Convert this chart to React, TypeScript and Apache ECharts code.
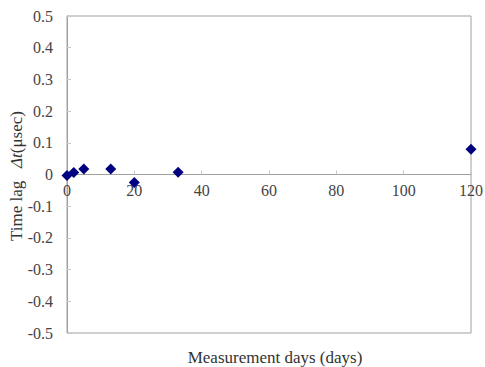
import React, { useEffect, useRef } from "react";
import * as echarts from "echarts";

const days = [0, 2, 5, 13, 20, 33, 120];
const timeLag = [-0.003, 0.006, 0.017, 0.017, -0.025, 0.007, 0.08];
const xTicks = [0, 20, 40, 60, 80, 100, 120];
const xName = "Measurement days (days)";
const yName = "Time lag   {i|Δt}(μsec)";

export default function App() {
  const ref = useRef<HTMLDivElement>(null);
  useEffect(() => {
    if (!ref.current) return;
    const chart = echarts.init(ref.current, null, { renderer: "svg", width: 485, height: 367 });
    const font = "'Liberation Serif', 'Times New Roman', serif";
    const gridTop = 16;
    const gridBottom = 34;
    const gridH = 367 - gridTop - gridBottom;
    chart.setOption({
      animation: false,
      backgroundColor: "#ffffff",
      grid: {
        left: 67,
        right: 14,
        top: gridTop,
        bottom: gridBottom,
        show: true,
        borderColor: "#a0a0a0",
        borderWidth: 1,
        containLabel: false,
        outerBoundsMode: "none",
      },
      graphic: [
        {
          type: "text",
          x: 275,
          y: 357,
          style: {
            text: xName,
            fill: "#333",
            font: `17px ${font}`,
            align: "center",
            verticalAlign: "middle",
          },
        },
        {
          type: "text",
          x: 16,
          y: 176,
          rotation: Math.PI / 2,
          style: {
            text: yName,
            fill: "#333",
            font: `17px ${font}`,
            align: "center",
            verticalAlign: "middle",
            rich: {
              i: { fontStyle: "italic", fontFamily: font, fontSize: 17, fill: "#333" },
            },
          },
        },
      ],
      xAxis: {
        type: "value",
        min: xTicks[0],
        max: xTicks[xTicks.length - 1],
        interval: 20,
        offset: -gridH / 2,
        axisLine: { onZero: false, lineStyle: { color: "#a0a0a0", width: 1 } },
        axisTick: { show: true, inside: true, length: 4, lineStyle: { color: "#c8c8c8" } },
        axisLabel: {
          color: "#444",
          fontFamily: font,
          fontSize: 16,
          margin: 8,
        },
        splitLine: { show: false },
      },
      yAxis: {
        type: "value",
        min: -0.5,
        max: 0.5,
        interval: 0.1,
        axisLine: { show: true, lineStyle: { color: "#a0a0a0", width: 1 } },
        axisTick: { show: true, inside: true, length: 4, lineStyle: { color: "#c8c8c8" } },
        axisLabel: {
          color: "#444",
          fontFamily: font,
          fontSize: 16,
          margin: 14,
          formatter: (v: number) => {
            const r = Math.round(v * 10) / 10;
            return r === 0 ? "0" : r.toFixed(1);
          },
        },
        splitLine: { show: false },
      },
      series: [
        {
          type: "scatter",
          symbol: "diamond",
          symbolSize: 11,
          itemStyle: { color: "#000080", opacity: 1 },
          data: days.map((d, i) => [d, timeLag[i]]),
        },
      ],
    });
    return () => chart.dispose();
  }, []);
  return (
    <div
      ref={ref}
      style={{ position: "absolute", left: 0, top: 0, width: 485, height: 367 }}
    />
  );
}
